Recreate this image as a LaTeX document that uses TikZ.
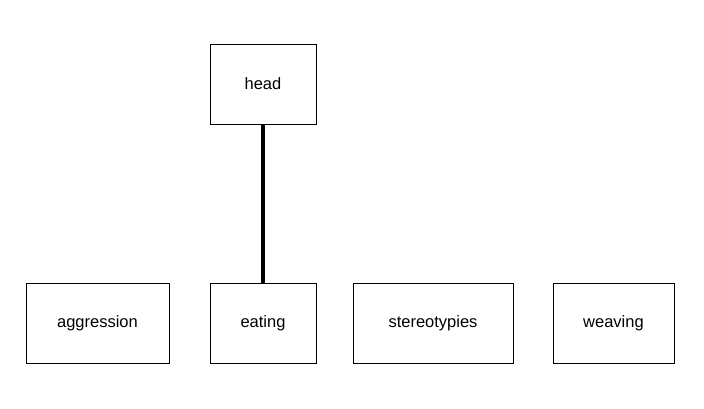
\documentclass[tikz,border=0pt]{standalone}
\usepackage{fontspec}
\setmainfont{Liberation Sans}
\usepackage{tikz}
\usetikzlibrary{positioning}

\begin{document}
\begin{tikzpicture}[x=1pt, y=-1pt,
    box/.style={draw, line width=1pt, minimum height=80pt, inner sep=0pt, font=\fontsize{16.5}{19}\selectfont},
    link/.style={line width=4pt}]
    \useasboundingbox (0,0) rectangle (704,408);

    % Top node
    \node[box, minimum width=106pt] (head) at (263,84) {head};

    % Bottom row
    \node[box, minimum width=143pt] (aggression) at (97.5,323) {aggression};
    \node[box, minimum width=106pt] (eating) at (263,323) {eating};
    \node[box, minimum width=160pt] (stereotypies) at (433,323) {stereotypies};
    \node[box, minimum width=121pt] (weaving) at (613.5,323) {weaving};

    % Edge
    \draw[link] (head.south) -- (eating.north);
\end{tikzpicture}
\end{document}
